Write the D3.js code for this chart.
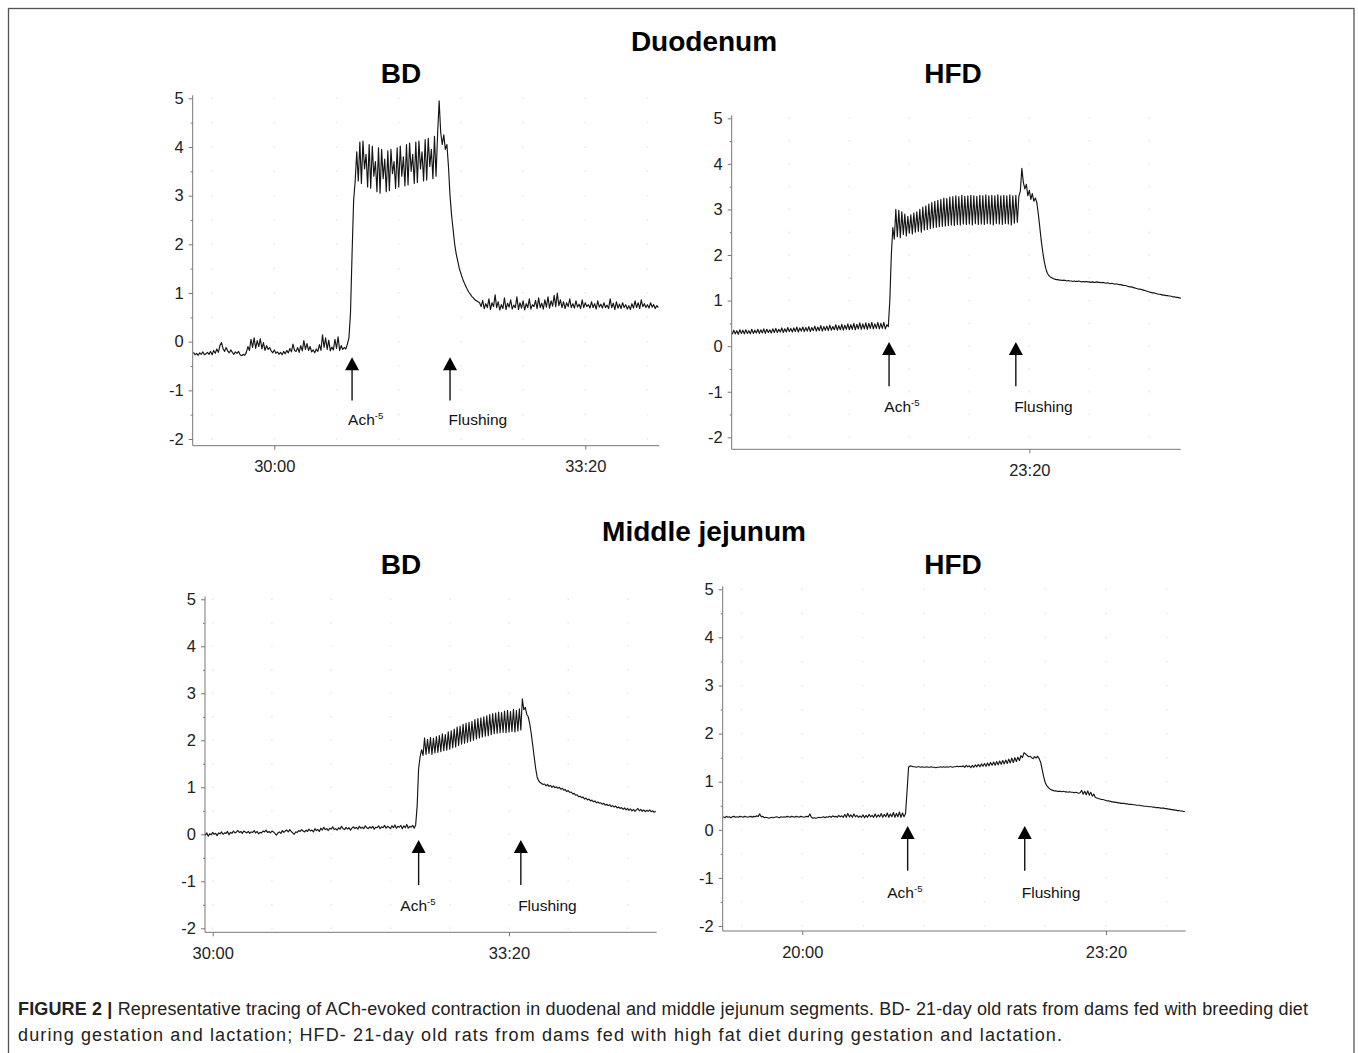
<!DOCTYPE html>
<html>
<head>
<meta charset="utf-8">
<script src="https://cdn.jsdelivr.net/npm/d3@7/dist/d3.min.js"></script>
<style>
    body { margin: 0; background: #fff; }
    svg text { font-family: "Liberation Sans", Arial, Helvetica, sans-serif; }
</style>
</head>
<body>
<svg id="figure" width="1358" height="1053"></svg>
<script>
"use strict";

// Tracings are sampled once per second, time in seconds from the recording start

// Duodenum, BD (t = 1748 .. 2047 s)
const duoBdStart = 1748;
const duoBdValues = [
    -0.22,-0.27,-0.24,-0.28,-0.23,-0.26,-0.21,-0.27,-0.25,-0.22,
    -0.26,-0.20,-0.27,-0.18,-0.24,-0.15,-0.22,-0.08,-0.02,-0.14,
    -0.20,-0.12,-0.19,-0.23,-0.17,-0.22,-0.26,-0.21,-0.24,-0.20,
    -0.27,-0.29,-0.26,-0.28,-0.22,-0.10,-0.18,0.05,-0.12,0.08,
    -0.14,0.02,-0.10,0.06,-0.15,-0.02,-0.18,-0.08,-0.16,-0.12,
    -0.19,-0.23,-0.17,-0.24,-0.21,-0.26,-0.22,-0.27,-0.20,-0.25,
    -0.18,-0.23,-0.14,-0.21,-0.05,-0.18,-0.20,-0.12,-0.22,-0.08,
    -0.19,0.02,-0.16,-0.04,-0.18,-0.10,-0.21,-0.17,-0.23,-0.15,
    -0.20,-0.06,-0.18,0.14,-0.12,0.08,-0.16,0.03,-0.19,-0.11,
    -0.17,0.05,-0.14,0.10,-0.18,-0.08,-0.16,-0.12,-0.15,-0.05,
    0.08,
    0.60,1.80,2.90,3.30,3.90,
    3.30,4.10,3.25,4.12,3.55,3.85,3.18,4.05,3.15,4.02,
    3.40,3.70,3.08,3.98,3.05,3.95,3.35,3.75,3.08,3.92,
    3.10,3.95,3.45,3.70,3.15,3.98,3.18,4.02,3.40,3.80,
    3.20,4.05,3.22,4.08,3.50,3.85,3.25,4.10,3.27,4.12,
    3.55,3.90,3.30,4.15,3.32,4.18,3.60,3.95,3.35,4.22,
    3.40,4.25,
    4.95,4.30,4.05,4.25,3.95,4.05,
    3.60,3.00,2.60,2.30,2.00,1.80,1.65,1.50,1.40,1.30,
    1.22,1.15,1.08,1.02,0.98,0.93,0.90,0.86,0.84,0.82,
    0.80,0.72,0.85,0.68,0.78,0.70,0.88,0.66,0.80,0.72,
    0.96,0.70,0.82,0.65,0.76,0.68,0.90,0.66,0.79,0.71,
    0.86,0.67,0.75,0.70,0.92,0.66,0.80,0.69,0.84,0.65,
    0.78,0.70,0.88,0.67,0.76,0.72,0.85,0.68,0.90,0.70,
    0.79,0.67,0.86,0.71,0.92,0.69,0.84,0.73,0.95,0.72,
    1.00,0.74,0.86,0.70,0.82,0.68,0.80,0.72,0.88,0.70,
    0.78,0.69,0.84,0.71,0.77,0.68,0.86,0.70,0.80,0.72,
    0.76,0.69,0.82,0.70,0.78,0.67,0.84,0.71,0.77,0.69,
    0.80,0.70,0.75,0.68,0.88,0.70,0.79,0.66,0.82,0.69,
    0.77,0.68,0.80,0.70,0.76,0.67,0.74,0.66,0.78,0.69,
    0.84,0.70,0.80,0.68,0.86,0.72,0.78,0.70,0.76,0.69,
    0.80,0.71,0.76,0.68,0.74,0.70
];
const duoBdTicks = [1800, 2000];
const duoBdEvents = [1850, 1913];

// Duodenum, HFD (t = 1202 .. 1501 s)
const duoHfdStart = 1202;
const duoHfdValues = [
    0.26,0.35,0.27,0.34,0.26,0.36,0.28,0.35,0.27,0.36,
    0.28,0.34,0.27,0.37,0.28,0.35,0.29,0.37,0.28,0.36,
    0.29,0.38,0.28,0.37,0.30,0.36,0.29,0.38,0.30,0.39,
    0.30,0.37,0.31,0.40,0.30,0.38,0.31,0.41,0.32,0.39,
    0.31,0.40,0.32,0.42,0.31,0.40,0.33,0.42,0.32,0.41,
    0.33,0.43,0.32,0.41,0.34,0.44,0.33,0.42,0.34,0.45,
    0.33,0.43,0.35,0.44,0.34,0.46,0.35,0.43,0.36,0.47,
    0.35,0.45,0.36,0.48,0.35,0.46,0.37,0.49,0.36,0.47,
    0.37,0.50,0.36,0.48,0.38,0.51,0.37,0.49,0.38,0.51,
    0.37,0.50,0.39,0.52,0.38,0.49,0.39,0.52,0.38,0.50,
    0.39,0.52,0.38,0.47,0.43,
    1.00,2.00,2.60,
    2.35,3.00,2.40,2.98,2.38,2.95,2.45,2.90,2.42,2.85,
    2.48,2.88,2.46,2.92,2.50,2.95,2.52,3.00,2.50,3.05,
    2.55,3.08,2.56,3.12,2.58,3.15,2.60,3.18,2.61,3.20,
    2.62,3.22,2.63,3.25,2.64,3.24,2.65,3.27,2.66,3.28,
    2.65,3.30,2.67,3.28,2.66,3.31,2.68,3.29,2.67,3.30,
    2.68,3.31,2.66,3.30,2.69,3.29,2.67,3.31,2.68,3.30,
    2.67,3.32,2.69,3.30,2.68,3.31,2.66,3.30,2.69,3.32,
    2.68,3.30,2.67,3.31,2.69,3.30,2.68,3.32,2.66,3.30,
    2.70,3.31,2.72,3.28,
    3.40,3.90,3.60,3.45,3.55,3.30,3.42,3.22,3.35,3.18,3.25,3.15,
    2.90,2.60,2.30,2.05,1.85,1.70,1.60,1.55,1.52,1.50,1.48,
    1.47,1.46,1.46,1.45,1.45,1.44,1.45,1.44,1.43,1.44,
    1.43,1.43,1.42,1.43,1.42,1.42,1.43,1.42,1.41,1.42,
    1.41,1.42,1.41,1.41,1.40,1.41,1.40,1.40,1.41,1.40,
    1.40,1.39,1.40,1.39,1.38,1.39,1.38,1.37,1.38,1.37,
    1.36,1.37,1.36,1.35,1.35,1.34,1.33,1.33,1.32,1.31,
    1.30,1.30,1.29,1.28,1.27,1.26,1.25,1.25,1.24,1.23,
    1.22,1.21,1.20,1.19,1.18,1.17,1.17,1.16,1.15,1.14,
    1.14,1.13,1.12,1.12,1.11,1.11,1.10,1.10,1.09,1.08,
    1.08,1.07,1.07,1.06,1.05
];
const duoHfdTicks = [1400];
const duoHfdEvents = [1306.5, 1391];

// Middle jejunum, BD (t = 1795 .. 2099 s)
const jejBdStart = 1795;
const jejBdValues = [
    -0.02,0.03,-0.04,0.01,-0.01,0.04,0.00,0.02,-0.03,0.03,
    0.01,0.05,0.00,0.03,0.02,0.06,-0.01,0.04,0.02,0.07,
    0.03,0.05,0.08,0.04,0.06,0.02,0.07,0.05,0.03,0.06,
    0.02,0.05,0.04,0.08,0.03,0.06,0.01,0.04,0.03,0.07,
    0.05,0.09,0.04,0.06,0.03,0.07,0.05,0.02,-0.02,0.03,
    0.05,0.02,0.08,0.04,0.07,0.09,0.05,0.10,0.06,0.03,
    0.00,0.05,0.04,0.08,0.06,0.10,0.07,0.05,0.09,0.06,
    0.11,0.07,0.09,0.05,0.12,0.08,0.10,0.06,0.13,0.09,
    0.15,0.10,0.12,0.08,0.13,0.11,0.16,0.10,0.12,0.09,
    0.14,0.11,0.17,0.12,0.10,0.15,0.11,0.14,0.09,0.13,
    0.16,0.12,0.15,0.11,0.17,0.13,0.15,0.12,0.18,0.14,
    0.12,0.16,0.13,0.17,0.11,0.15,0.14,0.18,0.12,0.16,
    0.14,0.19,0.13,0.17,0.15,0.12,0.18,0.14,0.20,0.13,
    0.17,0.15,0.19,0.12,0.18,0.14,0.21,0.13,0.17,0.15,
    0.19,0.13,0.20,
    0.60,1.40,1.65,1.80,
    1.68,2.05,1.70,2.02,1.72,2.06,1.70,2.04,1.73,2.08,
    1.74,2.10,1.76,2.14,1.78,2.12,1.79,2.18,1.81,2.20,
    1.84,2.24,1.86,2.28,1.89,2.30,1.92,2.34,1.94,2.36,
    1.96,2.38,1.98,2.40,2.00,2.44,2.03,2.46,2.05,2.48,
    2.07,2.50,2.09,2.52,2.10,2.55,2.12,2.57,2.14,2.58,
    2.15,2.60,2.16,2.59,2.17,2.62,2.16,2.64,2.18,2.61,
    2.19,2.66,2.18,2.63,2.20,2.67,2.22,
    2.88,2.65,2.70,2.55,2.50,
    2.35,2.15,1.90,1.65,1.40,1.22,1.14,1.10,1.08,1.06,
    1.07,1.03,1.06,1.02,1.04,1.00,1.03,0.99,1.01,0.98,
    1.00,0.96,0.98,0.94,0.95,0.91,0.93,0.89,0.90,0.86,
    0.87,0.83,0.84,0.80,0.81,0.78,0.79,0.75,0.77,0.73,
    0.75,0.71,0.73,0.69,0.71,0.67,0.69,0.66,0.67,0.64,
    0.66,0.62,0.64,0.61,0.63,0.59,0.61,0.58,0.60,0.56,
    0.58,0.55,0.57,0.53,0.56,0.52,0.55,0.51,0.54,0.50,
    0.53,0.49,0.52,0.55,0.50,0.53,0.49,0.52,0.48,0.51,
    0.49,0.52,0.48,0.50,0.47,0.49
];
const jejBdTicks = [1800, 2000];
const jejBdEvents = [1939, 2008];

// Middle jejunum, HFD (t = 1148 .. 1452 s)
const jejHfdStart = 1148;
const jejHfdValues = [
    0.27,0.25,0.28,0.26,0.27,0.25,0.27,0.28,0.26,0.27,
    0.26,0.28,0.27,0.26,0.28,0.27,0.26,0.27,0.28,0.26,
    0.28,0.27,0.29,0.28,0.33,0.27,0.28,0.25,0.26,0.25,
    0.24,0.25,0.26,0.25,0.26,0.27,0.26,0.25,0.27,0.26,
    0.27,0.26,0.28,0.27,0.26,0.28,0.27,0.26,0.28,0.27,
    0.26,0.28,0.27,0.26,0.27,0.28,0.27,0.33,0.26,0.24,
    0.25,0.24,0.25,0.26,0.25,0.26,0.27,0.25,0.27,0.26,
    0.28,0.26,0.29,0.27,0.28,0.26,0.30,0.27,0.29,0.26,
    0.32,0.26,0.34,0.27,0.31,0.26,0.33,0.27,0.30,0.26,
    0.29,0.26,0.31,0.25,0.30,0.26,0.32,0.27,0.30,0.26,
    0.33,0.26,0.31,0.27,0.34,0.26,0.32,0.27,0.35,0.26,
    0.33,0.27,0.36,0.26,0.34,0.27,0.37,0.26,0.35,0.27,
    0.34,
    0.80,1.30,1.33,
    1.32,1.31,1.31,1.30,1.31,1.31,1.30,1.31,1.30,1.30,
    1.31,1.30,1.30,1.31,1.30,1.30,1.29,1.30,1.30,1.31,
    1.30,1.31,1.30,1.31,1.30,1.31,1.31,1.30,1.31,1.31,
    1.32,1.31,1.32,1.31,
    1.33,1.30,1.34,1.31,1.33,1.29,1.34,1.30,1.35,1.31,
    1.36,1.31,1.37,1.32,1.38,1.32,1.39,1.33,1.40,1.34,
    1.41,1.34,1.42,1.35,1.43,1.36,1.44,1.37,1.45,1.38,
    1.47,1.39,1.49,1.40,1.50,1.42,1.51,1.44,1.54,1.50,
    1.60,
    1.58,1.55,1.52,1.53,1.50,1.48,1.52,1.49,1.53,1.48,
    1.40,1.25,1.10,0.98,0.92,0.88,0.85,0.83,0.82,0.81,
    0.81,0.80,0.80,0.80,0.79,0.80,0.79,0.79,0.78,0.79,
    0.78,0.78,0.77,0.78,0.77,0.76,0.77,0.82,0.74,0.80,
    0.73,0.81,0.72,0.78,0.70,0.74,0.67,0.66,0.65,0.64,
    0.63,0.63,0.62,0.61,0.60,0.60,0.59,0.58,0.58,0.57,
    0.57,0.56,0.56,0.55,0.55,0.55,0.54,0.54,0.53,0.53,
    0.53,0.52,0.52,0.51,0.51,0.51,0.50,0.50,0.49,0.49,
    0.49,0.48,0.48,0.48,0.47,0.47,0.46,0.46,0.46,0.45,
    0.45,0.45,0.44,0.44,0.43,0.43,0.42,0.42,0.41,0.41,
    0.40,0.40,0.39,0.39,0.38,0.38
];
const jejHfdTicks = [1200, 1400];
const jejHfdEvents = [1269.4, 1346.5];

// Shared axis values
const yTicks = [-2, -1, 0, 1, 2, 3, 4, 5];
const yMinorTicks = [-1.5, -0.5, 0.5, 1.5, 2.5, 3.5, 4.5];
const eventLabels = ["Ach", "Flushing"];

const sectionTitles = ["Duodenum", "Middle jejunum"];
const groupTitles = ["BD", "HFD"];

const captionLines = [
    "Representative tracing of ACh-evoked contraction in duodenal and middle jejunum segments. BD- 21-day old rats from dams fed with breeding diet",
    "during gestation and lactation; HFD- 21-day old rats from dams fed with high fat diet during gestation and lactation."
];

// Panel geometry in page pixels; arrow heights in signal units
const panels = [
    {values: duoBdValues, start: duoBdStart, ticks: duoBdTicks, events: duoBdEvents,
     domain: [1747.5, 2047.6], left: 192.7, right: 659.3, yTop: 98.3, yBottom: 439, axisY: 445.7,
     arrowTip: -0.32, arrowEnd: -1.21, labelY: -1.71, labelDx: [-4, -1.4]},
    {values: duoHfdValues, start: duoHfdStart, ticks: duoHfdTicks, events: duoHfdEvents,
     domain: [1201.6, 1500.9], left: 731.7, right: 1180.7, yTop: 118.3, yBottom: 437.3, axisY: 449.3,
     arrowTip: 0.09, arrowEnd: -0.88, labelY: -1.44, labelDx: [-4.7, -1.7]},
    {values: jejBdValues, start: jejBdStart, ticks: jejBdTicks, events: jejBdEvents,
     domain: [1794.8, 2099.7], left: 205, right: 656.7, yTop: 599.3, yBottom: 928.3, axisY: 932.3,
     arrowTip: -0.12, arrowEnd: -1.08, labelY: -1.63, labelDx: [-18.3, -2.7]},
    {values: jejHfdValues, start: jejHfdStart, ticks: jejHfdTicks, events: jejHfdEvents,
     domain: [1147.6, 1452.5], left: 722.7, right: 1185.7, yTop: 589.3, yBottom: 926, axisY: 931,
     arrowTip: 0.08, arrowEnd: -0.85, labelY: -1.41, labelDx: [-20.4, -3]}
];

const svg = d3.select("#figure");

function formatClock(t) {
    const m = Math.floor(t / 60), s = Math.round(t % 60);
    return `${m}:${String(s).padStart(2, "0")}`;
}

// Outer frame
svg.append("rect")
    .attr("x", 8.5).attr("y", 8.5)
    .attr("width", 1345.5).attr("height", 1060)
    .attr("fill", "none")
    .attr("stroke", "#555")
    .attr("stroke-width", 1.3);

// Section and group titles
const titleRows = [{y: 51, groupY: 83}, {y: 541, groupY: 574}];
titleRows.forEach((row, i) => {
    svg.append("text")
        .attr("x", 704).attr("y", row.y)
        .attr("text-anchor", "middle")
        .attr("font-weight", "bold").attr("font-size", 28)
        .text(sectionTitles[i]);
    [401, 953].forEach((cx, j) => {
        svg.append("text")
            .attr("x", cx).attr("y", row.groupY)
            .attr("text-anchor", "middle")
            .attr("font-weight", "bold").attr("font-size", 28)
            .text(groupTitles[j]);
    });
});

panels.forEach((p) => {
    const x = d3.scaleLinear().domain(p.domain).range([p.left, p.right]);
    const y = d3.scaleLinear().domain([-2, 5]).range([p.yBottom, p.yTop]);
    const g = svg.append("g");

    // Faint dotted grid at 40 s x 0.5 unit intersections
    const gridX = d3.range(Math.ceil(p.domain[0] / 40) * 40, p.domain[1], 40);
    const gridY = d3.range(-2, 5.01, 0.5);
    const dots = [];
    gridX.forEach((gx) => gridY.forEach((gy) => dots.push([gx, gy])));
    g.append("g").selectAll("rect")
        .data(dots)
        .join("rect")
        .attr("x", (d) => x(d[0]) - 0.75)
        .attr("y", (d) => y(d[1]) - 0.75)
        .attr("width", 1.5).attr("height", 1.5)
        .attr("fill", "#e6e6e6");

    // Y axis: major and minor ticks
    const yAxis = g.append("g")
        .attr("transform", `translate(${p.left},0)`)
        .call(d3.axisLeft(y).tickValues(yTicks).tickSize(4).tickPadding(5).tickFormat((d) => String(d)));
    const yMinor = g.append("g")
        .attr("transform", `translate(${p.left},0)`)
        .call(d3.axisLeft(y).tickValues(yMinorTicks).tickSize(2).tickFormat(""));

    // X axis
    const xAxis = g.append("g")
        .attr("transform", `translate(0,${p.axisY})`)
        .call(d3.axisBottom(x).tickValues(p.ticks).tickSize(4).tickPadding(11).tickFormat(formatClock));

    [yAxis, yMinor, xAxis].forEach((a) => {
        a.select(".domain").remove();
        a.selectAll("line").attr("stroke", "#777");
        a.selectAll("text")
            .attr("font-size", 16.5)
            .attr("fill", "#222")
            .attr("font-family", "\"Liberation Sans\", Arial, sans-serif");
    });

    // Axis lines
    g.append("path")
        .attr("d", `M${p.left},${p.yTop - 3}V${p.axisY}H${p.right}`)
        .attr("fill", "none")
        .attr("stroke", "#777")
        .attr("stroke-width", 1);

    // Tracing
    const line = d3.line()
        .x((d, i) => x(p.start + i))
        .y((d) => y(d));
    g.append("path")
        .datum(p.values)
        .attr("d", line)
        .attr("fill", "none")
        .attr("stroke", "#151515")
        .attr("stroke-width", 1.15)
        .attr("stroke-linejoin", "round");

    // Event arrows and labels
    p.events.forEach((t, i) => {
        const ax = x(t), tip = y(p.arrowTip);
        g.append("line")
            .attr("x1", ax).attr("x2", ax)
            .attr("y1", tip + 10).attr("y2", y(p.arrowEnd))
            .attr("stroke", "#111").attr("stroke-width", 1.4);
        g.append("path")
            .attr("d", `M${ax},${tip}L${ax - 7},${tip + 13}L${ax + 7},${tip + 13}Z`)
            .attr("fill", "#000");
        const label = g.append("text")
            .attr("x", ax + p.labelDx[i])
            .attr("y", y(p.labelY))
            .attr("font-size", 15.5)
            .attr("fill", "#111")
            .text(eventLabels[i]);
        if (i === 0) {
            label.append("tspan")
                .attr("dy", -6)
                .attr("font-size", 9.5)
                .text("-5");
        }
    });
});

// Caption, stretched to the reference line widths
const caption = svg.append("g").attr("font-size", 18).attr("fill", "#222");
const line1 = caption.append("text")
    .attr("x", 18).attr("y", 1015)
    .attr("textLength", 1290).attr("lengthAdjust", "spacing");
line1.append("tspan").attr("font-weight", "bold").text("FIGURE 2 |");
line1.append("tspan").text(" " + captionLines[0]);
caption.append("text")
    .attr("x", 18).attr("y", 1041)
    .attr("textLength", 1044).attr("lengthAdjust", "spacing")
    .text(captionLines[1]);
</script>
</body>
</html>
